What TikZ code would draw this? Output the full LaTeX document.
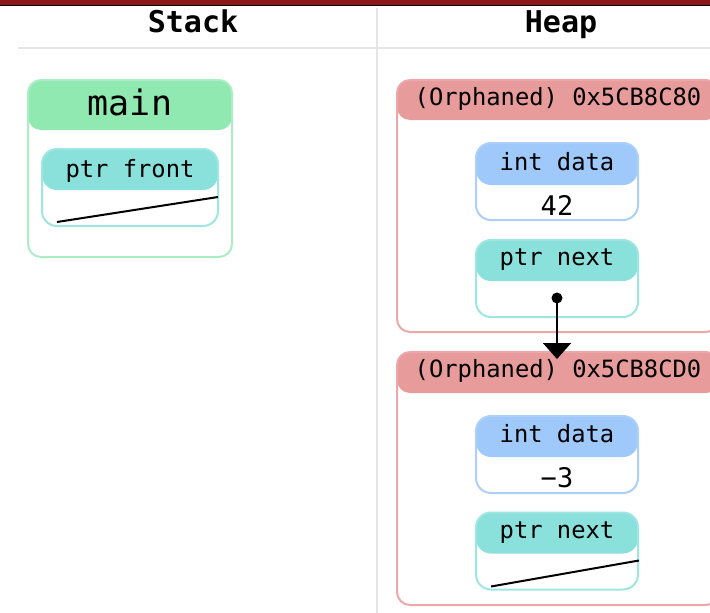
\documentclass[tikz,border=0pt]{standalone}
\usepackage{fontspec}
\setmonofont{DejaVu Sans Mono}
\usetikzlibrary{arrows.meta, positioning}

\definecolor{topred}{RGB}{142,22,24}
\definecolor{rulegray}{RGB}{229,229,229}
\definecolor{framegreen}{RGB}{172,237,198}
\definecolor{hdrgreen}{RGB}{143,233,176}
\definecolor{frameteal}{RGB}{158,230,226}
\definecolor{hdrteal}{RGB}{138,224,218}
\definecolor{frameblue}{RGB}{172,208,250}
\definecolor{hdrblue}{RGB}{158,201,250}
\definecolor{framepink}{RGB}{236,168,168}
\definecolor{hdrpink}{RGB}{232,155,155}

\begin{document}
\begin{tikzpicture}[
  x=1pt, y=-1pt,
  box/.style={draw=#1, line width=2pt, fill=white, inner sep=0pt},
  hdr/.style 2 args={path picture={
      \fill[#1] (path picture bounding box.north west)
        rectangle ([yshift=-#2]path picture bounding box.north east);}},
  framebox/.style={box=#1, rounded corners=13pt},
  cell/.style={box=#1, rounded corners=15pt,
               minimum width=162pt, minimum height=77pt},
  title/.style={font=\fontsize{30}{34}\selectfont\ttfamily\bfseries,
                inner sep=0pt, anchor=base},
  fname/.style={font=\fontsize{35}{40}\selectfont\ttfamily,
                inner sep=0pt, anchor=base},
  lbl/.style={font=\fontsize{23.8}{26}\selectfont\ttfamily,
              inner sep=0pt, anchor=base},
  val/.style={font=\fontsize{27}{30}\selectfont\ttfamily,
              inner sep=0pt, anchor=base},
  nullp/.style={line width=2pt, black},
  dotn/.style={circle, fill=black, inner sep=0pt, minimum size=11pt},
  ptrarr/.style={-{Triangle[width=28pt, length=16pt]}, line width=2pt},
]
\useasboundingbox (0,0) rectangle (710,613);

%% ---- top band and column rules ----
\fill[topred] (0,0) rectangle (710,4.5);
\draw[black, line width=1pt] (0,5) -- (710,5);
\draw[rulegray, line width=2pt] (18,48) -- (710,48);
\draw[rulegray, line width=2pt] (377,8) -- (377,613);

\node[title] (stk) at (193,32) {Stack};
\node[title] (hp)  at (561,32) {Heap};

%% ---- Stack: main frame ----
\node[framebox=framegreen, hdr={hdrgreen}{50pt},
      minimum width=204pt, minimum height=177pt] (mainf) at (130,168.5) {};
\node[fname] (mainlbl) at (130,115) {main};

\node[cell=frameteal, hdr={hdrteal}{41pt}, minimum width=176pt]
      (front) at (130,187.5) {};
\node[lbl] (frontlbl) at (130,177) {ptr front};
\draw[nullp] ([xshift=16pt, yshift=5pt]front.south west)
          -- ([xshift=-1pt, yshift=30pt]front.south east);

%% ---- Heap: first node ----
\node[framebox=framepink, hdr={hdrpink}{40pt},
      minimum width=322pt, minimum height=252pt] (h1) at (558,206) {};
\node[lbl] (h1lbl) at (558,105) {(Orphaned) 0x5CB8C80};

\node[cell=frameblue, hdr={hdrblue}{42pt}] (h1data) at (557,181.5) {};
\node[lbl] (h1datalbl) at (557,170) {int data};
\node[val] (h1val) at (557,215.5) {42};

\node[cell=frameteal, hdr={hdrteal}{41pt}] (h1next) at (557,278.5) {};
\node[lbl] (h1nextlbl) at (557,265) {ptr next};
\node[dotn] (h1dot) at (557,298) {};

%% ---- Heap: second node ----
\node[framebox=framepink, hdr={hdrpink}{41pt},
      minimum width=322pt, minimum height=253pt] (h2) at (558,478.5) {};
\node[lbl] (h2lbl) at (558,377) {(Orphaned) 0x5CB8CD0};

\node[cell=frameblue, hdr={hdrblue}{41pt}] (h2data) at (557,454.5) {};
\node[lbl] (h2datalbl) at (557,442) {int data};
\node[val] (h2val) at (557,487.5) {−3};

\node[cell=frameteal, hdr={hdrteal}{41pt}] (h2next) at (557,551) {};
\node[lbl] (h2nextlbl) at (557,538) {ptr next};
\draw[nullp] ([xshift=16pt, yshift=4pt]h2next.south west)
          -- ([yshift=30pt]h2next.south east);

%% next pointer of the first node
\draw[ptrarr, shorten >=-8pt] (h1dot.center) -- (h1dot |- h2.north);

\end{tikzpicture}
\end{document}
